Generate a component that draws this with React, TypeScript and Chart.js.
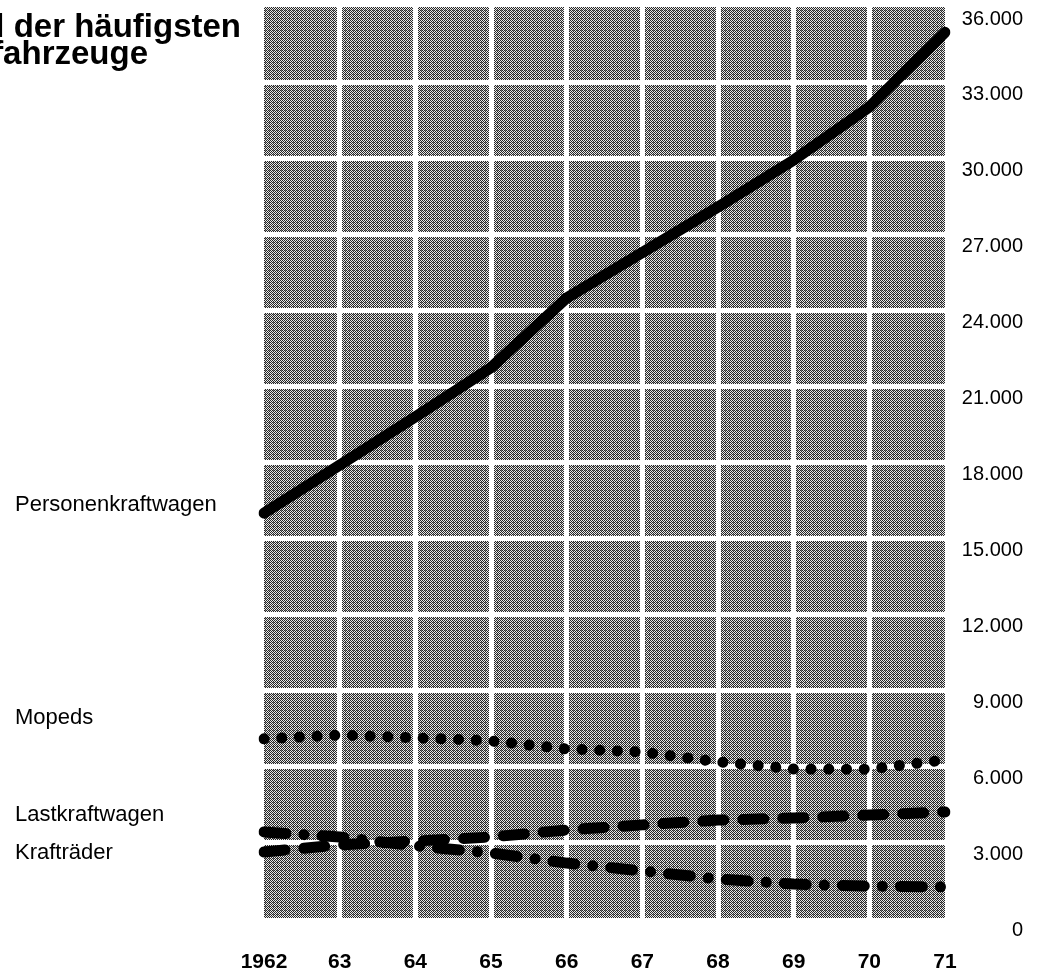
import React, { useEffect, useRef } from "react";
import { Chart, registerables } from "chart.js";

Chart.register(...registerables);

const years = ["1962", "63", "64", "65", "66", "67", "68", "69", "70", "71"];
const yTickValues = [0, 3000, 6000, 9000, 12000, 15000, 18000, 21000, 24000, 27000, 30000, 33000, 36000];

const personenkraftwagen = [16000, 17900, 19800, 21750, 24500, 26300, 28100, 29950, 32050, 35000];
const mopeds = [7080, 7230, 7120, 7000, 6680, 6560, 6170, 5890, 5880, 6250];
const lastkraftwagen = [2610, 2890, 3040, 3200, 3480, 3680, 3870, 3950, 4070, 4190];
const kraftraeder = [3400, 3200, 2850, 2570, 2170, 1860, 1540, 1340, 1260, 1230];

const titleLines = ["Anzahl der häufigsten", "Kraftfahrzeuge"];
const sideLabels = ["Personenkraftwagen", "Mopeds", "Lastkraftwagen", "Krafträder"];

const FONT = "'Liberation Sans', Arial, Helvetica, sans-serif";

function fmt(v: number): string {
  return String(v).replace(/\B(?=(\d{3})+(?!\d))/g, ".");
}

function makePattern(ctx: CanvasRenderingContext2D): CanvasPattern | string {
  const c = document.createElement("canvas");
  c.width = 4;
  c.height = 4;
  const p = c.getContext("2d");
  if (!p) return "#888";
  p.fillStyle = "#e8e8e8";
  p.fillRect(0, 0, 4, 4);
  p.fillStyle = "#262626";
  for (let y = 0; y < 4; y++) {
    for (let x = 0; x < 4; x++) {
      if ((x + y) % 2 === 0) p.fillRect(x, y, 1, 1);
    }
  }
  p.fillStyle = "#777";
  p.fillRect(1, 2, 1, 1);
  return ctx.createPattern(c, "repeat") || "#888";
}

const bgPlugin = {
  id: "halftoneBg",
  beforeDraw(chart: any) {
    const { ctx, chartArea } = chart;
    if (!chartArea) return;
    ctx.save();
    ctx.fillStyle = makePattern(ctx);
    ctx.fillRect(chartArea.left, chartArea.top, chartArea.right - chartArea.left, chartArea.bottom - chartArea.top);
    ctx.restore();
  },
};

export default function App() {
  const ref = useRef<HTMLCanvasElement | null>(null);

  useEffect(() => {
    document.body.style.margin = "0";
    document.body.style.overflow = "hidden";
    if (!ref.current) return;
    const common = {
      borderColor: "#000",
      pointRadius: 0,
      pointHoverRadius: 0,
      tension: 0,
      borderCapStyle: "round" as const,
      borderJoinStyle: "round" as const,
      fill: false,
    };
    const chart = new Chart(ref.current, {
      type: "line",
      data: {
        labels: years,
        datasets: [
          { ...common, label: sideLabels[0], data: personenkraftwagen, borderWidth: 11 },
          { ...common, label: sideLabels[1], data: mopeds, borderWidth: 11, borderDash: [0.1, 17.6] },
          { ...common, label: sideLabels[2], data: lastkraftwagen, borderWidth: 11, borderDash: [21, 19] },
          { ...common, label: sideLabels[3], data: kraftraeder, borderWidth: 11, borderDash: [22, 18, 0.1, 18] },
        ],
      },
      options: {
        animation: false,
        responsive: false,
        maintainAspectRatio: false,
        events: [],
        layout: { padding: { left: 264, top: 7, right: 17, bottom: 0 } },
        plugins: { legend: { display: false }, tooltip: { enabled: false }, title: { display: false } },
        scales: {
          x: {
            type: "category",
            offset: false,
            grid: {
              drawTicks: false,
              lineWidth: 5,
              color: (c: any) => (c.index === 0 || c.index === years.length - 1 ? "rgba(0,0,0,0)" : "#fff"),
            },
            border: { display: false },
            ticks: {
              padding: 32,
              autoSkip: false,
              maxRotation: 0,
              color: "#000",
              font: { family: FONT, size: 21, weight: "bold" },
            },
            afterFit: (s: any) => {
              s.height = 58;
              s.paddingLeft = 0;
              s.paddingRight = 0;
            },
          },
          y: {
            position: "right",
            min: 0,
            max: 36000,
            afterBuildTicks: (s: any) => {
              s.ticks = yTickValues.map((v) => ({ value: v }));
            },
            grid: {
              drawTicks: false,
              lineWidth: 5,
              color: (c: any) => (c.index === 0 || c.index === yTickValues.length - 1 ? "rgba(0,0,0,0)" : "#fff"),
            },
            border: { display: false },
            ticks: {
              padding: 17,
              crossAlign: "far",
              labelOffset: 12,
              color: "#000",
              font: { family: FONT, size: 20 },
              callback: (v: any) => fmt(Number(v)),
            },
            afterFit: (s: any) => {
              s.width = 78;
              s.paddingTop = 0;
              s.paddingBottom = 0;
            },
          },
        },
      },
      plugins: [bgPlugin],
    });
    return () => chart.destroy();
  }, []);

  const textBase: React.CSSProperties = {
    position: "absolute",
    whiteSpace: "nowrap",
    fontFamily: FONT,
    color: "#000",
    margin: 0,
  };

  return (
    <div style={{ position: "absolute", left: 0, top: 0, width: 1040, height: 976, background: "#fff", overflow: "hidden" }}>
      <canvas ref={ref} width={1040} height={976} style={{ position: "absolute", left: 0, top: 0, width: 1040, height: 976 }} />
      <div style={{ ...textBase, right: 1040 - 241, top: 9, fontSize: 33, lineHeight: "33px", fontWeight: "bold", textAlign: "right" }}>
        {titleLines[0]}
      </div>
      <div style={{ ...textBase, right: 1040 - 148, top: 36, fontSize: 33, lineHeight: "33px", fontWeight: "bold", textAlign: "right" }}>
        {titleLines[1]}
      </div>
      <div style={{ ...textBase, left: 15, top: 493, fontSize: 22, lineHeight: "22px" }}>{sideLabels[0]}</div>
      <div style={{ ...textBase, left: 15, top: 706, fontSize: 22, lineHeight: "22px" }}>{sideLabels[1]}</div>
      <div style={{ ...textBase, left: 15, top: 803, fontSize: 22, lineHeight: "22px" }}>{sideLabels[2]}</div>
      <div style={{ ...textBase, left: 15, top: 841, fontSize: 22, lineHeight: "22px" }}>{sideLabels[3]}</div>
    </div>
  );
}
